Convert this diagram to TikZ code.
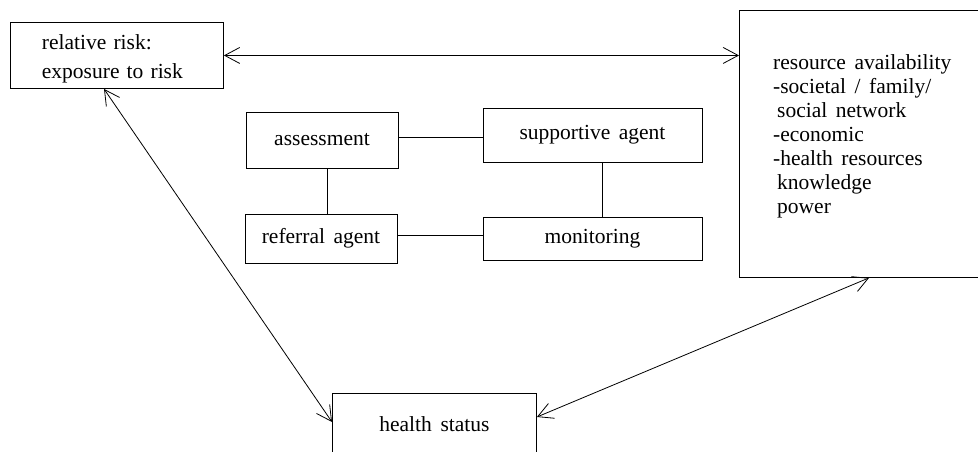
\documentclass[tikz,border=0pt]{standalone}
\usepackage{fontspec}
\setmainfont{Liberation Serif}
\usetikzlibrary{arrows.meta}
\newcommand\mainfs{\fontsize{21.5}{24}\selectfont\spaceskip=0.4em plus 0.1em\relax}
\begin{document}
\begin{tikzpicture}[x=1pt,y=-1pt,
  box/.style={draw, line width=0.9pt, inner sep=0pt, font=\mainfs},
  link/.style={line width=0.8pt},
  dbl/.style={line width=0.8pt, {Straight Barb[length=15pt,width=16pt]}-{Straight Barb[length=15pt,width=16pt]}}]
\clip (0,0) rectangle (978,452);
\fill[white] (0,0) rectangle (978,452);
% outer boxes
\node[box, minimum width=213pt, minimum height=66pt, text width=150pt, align=left, anchor=north west] (rr) at (10,22) {\rule{0pt}{22pt}relative risk:\\[5pt]exposure to risk};
\node[box, minimum width=250pt, minimum height=267pt, anchor=north west] (res) at (739,10) {};
\node[font=\mainfs, align=left, inner sep=0pt, anchor=north west] (restext) at (773,54.5) {resource availability\\-societal / family/\\\hspace*{4pt}social network\\-economic\\-health resources\\\hspace*{4pt}knowledge\\\hspace*{4pt}power};
\node[box, minimum width=204pt, minimum height=62pt, anchor=north west] (hs) at (332,393) {health status};
% inner boxes
\node[box, minimum width=152pt, minimum height=56pt] (assess) at (322,140) {assessment};
\node[box, minimum width=219pt, minimum height=54pt] (supp) at (592.5,135) {supportive agent};
\node[box, minimum width=152pt, minimum height=49pt] (refer) at (321,238.5) {referral agent};
\node[box, minimum width=219pt, minimum height=43pt] (monit) at (592.5,238.5) {monitoring};
% inner links
\draw[link] ([yshift=3pt]assess.east) -- ([yshift=3pt]assess.east -| supp.west);
\draw[link] ([xshift=5pt]assess.south) -- ([xshift=5pt]assess.south |- refer.north);
\draw[link] ([yshift=3pt]refer.east) -- ([yshift=3pt]refer.east -| monit.west);
\draw[link] ([xshift=10pt]supp.south) -- ([xshift=10pt]supp.south |- monit.north);
% arrows
\draw[dbl] (rr.east) -- (rr.east -| res.west);
\draw[dbl] ([xshift=94pt]rr.south west) -- ([yshift=-29pt]hs.north west);
\draw[dbl] ([yshift=-24pt]hs.north east) -- ([xshift=130pt]res.south west);
\end{tikzpicture}
\end{document}
